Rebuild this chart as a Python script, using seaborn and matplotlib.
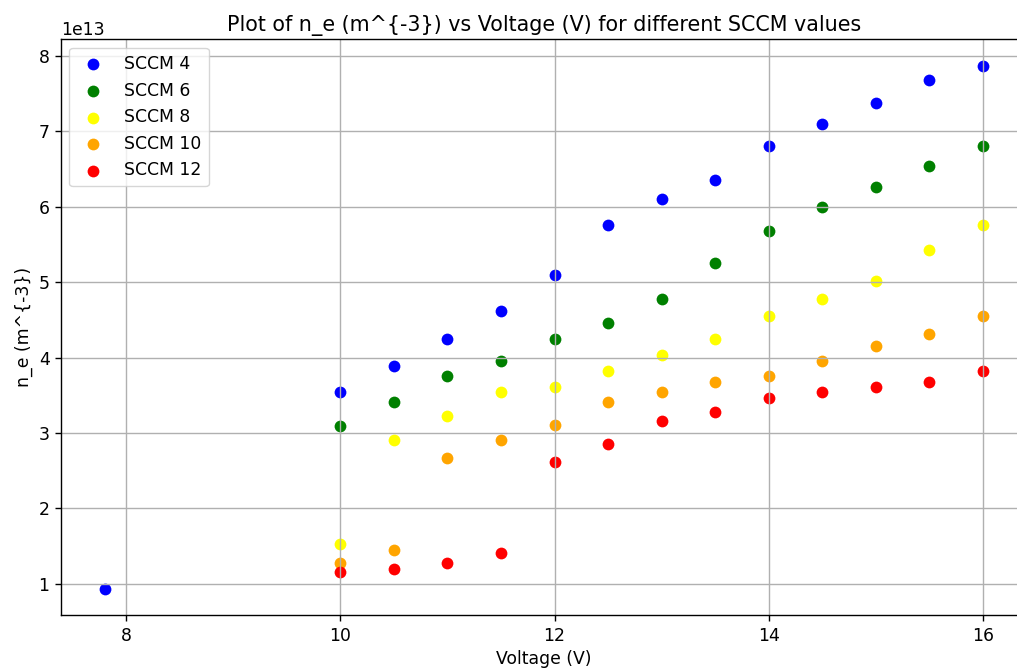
import seaborn as sns
import matplotlib.pyplot as plt
import pandas as pd

# voltages (V)
v_sccm4 = [7.8, 10, 10.5, 11, 11.5, 12, 12.5, 13, 13.5, 14, 14.5, 15, 15.5, 16]
v_common = [10, 10.5, 11, 11.5, 12, 12.5, 13, 13.5, 14, 14.5, 15, 15.5, 16]

# electron density, in units of 1e13 m^-3
ne_sccm4 = [0.93, 3.54, 3.89, 4.25, 4.62, 5.10, 5.76, 6.10, 6.36, 6.81, 7.10, 7.38, 7.68, 7.87]
ne_sccm6 = [3.09, 3.41, 3.75, 3.95, 4.25, 4.46, 4.78, 5.26, 5.68, 6.00, 6.26, 6.54, 6.81]
ne_sccm8 = [1.53, 2.91, 3.23, 3.54, 3.61, 3.82, 4.04, 4.25, 4.55, 4.78, 5.01, 5.42, 5.76]
ne_sccm10 = [1.28, 1.45, 2.67, 2.91, 3.10, 3.41, 3.54, 3.68, 3.75, 3.95, 4.16, 4.31, 4.55]
ne_sccm12 = [1.16, 1.20, 1.28, 1.41, 2.62, 2.85, 3.16, 3.28, 3.47, 3.54, 3.61, 3.68, 3.82]

labels = ['SCCM 4', 'SCCM 6', 'SCCM 8', 'SCCM 10', 'SCCM 12']
colors = ['blue', 'green', 'yellow', 'orange', 'red']

series = [
    (v_sccm4, ne_sccm4),
    (v_common, ne_sccm6),
    (v_common, ne_sccm8),
    (v_common, ne_sccm10),
    (v_common, ne_sccm12),
]

fig = plt.figure(figsize=(10.17, 6.7), dpi=100)
ax = fig.add_axes([0.0597, 0.0815, 0.950, 0.8597])

for (v, ne), lab, col in zip(series, labels, colors):
    df = pd.DataFrame({'Voltage': v, 'ne': [x * 1e13 for x in ne]})
    sns.scatterplot(data=df, x='Voltage', y='ne', color=col, label=lab,
                    s=72, linewidth=0, ax=ax)

ax.set_xlabel('Voltage (V)', fontsize=12.4)
ax.set_ylabel('n_e (m^{-3})', fontsize=12.4)
ax.set_title('Plot of n_e (m^{-3}) vs Voltage (V) for different SCCM values', fontsize=14.9)
ax.tick_params(labelsize=12.4, width=1.0, length=4.5)
ax.yaxis.get_offset_text().set_fontsize(12.4)
for sp in ax.spines.values():
    sp.set_linewidth(1.0)
ax.grid(True, linewidth=1.0)
ax.legend(loc='upper left', fontsize=12.4, markerscale=1.0)

plt.savefig('out.png', dpi=100)
